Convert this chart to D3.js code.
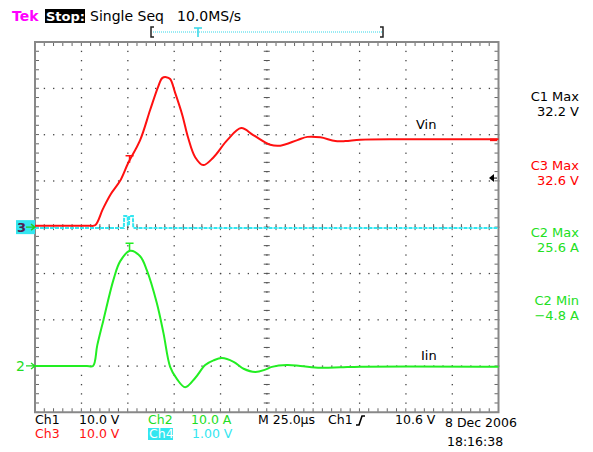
<!DOCTYPE html>
<html>
<head>
<meta charset="utf-8">
<script src="https://cdn.jsdelivr.net/npm/d3@7/dist/d3.min.js"></script>
<style>
  body { margin: 0; background: #fff; }
  svg { display: block; font-family: "DejaVu Sans", Verdana, sans-serif; }
</style>
</head>
<body>
<div id="scope"></div>
<script>
// Time is in µs from the left edge of the screen (25 µs/div, 10 divs)
const ch3Time  = [0, 20, 29, 32.4, 36.7, 41, 45.9, 50.2, 56.7, 62.1, 66.4, 68.6, 70.8, 72.9, 75.6, 79.4, 82.6, 86.4, 90.7, 96.1, 103.7, 111.2, 117.7, 126.9, 132.3, 141.5, 146.9, 153.9, 162, 167.4, 175.5, 197.1, 224.1, 250];
const ch3Volts = [0.3, 0.3, 0.3, 0.4, 4.0, 7.2, 10.0, 13.8, 18.8, 25.3, 30.3, 32.2, 32.4, 32.0, 29.0, 24.3, 19.3, 15.1, 13.4, 15.0, 18.8, 21.4, 19.9, 17.8, 17.6, 18.8, 19.5, 19.4, 18.6, 18.6, 18.9, 19.0, 19.0, 19.0];

const ch2Time = [0, 20, 28, 31.3, 33.6, 36.9, 42.3, 45.9, 51.3, 56.7, 60.3, 65.7, 69.3, 72.9, 76.5, 81, 86.4, 91.8, 96.3, 100.8, 107.1, 112.5, 118.8, 124.2, 127.8, 135.9, 143.1, 153.9, 164.7, 175.5, 250];
const ch2Amps = [0, 0, 0, 0, 4.5, 9.9, 18.6, 22.6, 24.9, 23.7, 20.7, 13.6, 7.1, -0.2, -2.8, -4.6, -2.6, 0.2, 1.2, 1.7, 0.9, -0.6, -1.3, -0.8, -0.2, 0.2, 0, -0.4, -0.3, -0.15, -0.15];

const ch4Time  = [0, 47.9, 48.1, 50.0, 50.1, 50.7, 50.8, 52.8, 53.0, 250];
const ch4Volts = [-0.02, -0.02, 0.24, 0.24, 0.04, 0.04, 0.24, 0.24, -0.02, -0.02];

const measureNames  = ["C1 Max", "C3 Max", "C2 Max", "C2 Min"];
const measureValues = ["32.2 V", "32.6 V", "25.6 A", "\u22124.8 A"];
const measureColors = ["#000", "#ff0000", "#22e022", "#22e022"];

const W = 593, H = 452;
const plotLeft = 35, plotRight = 498.5, plotTop = 42, plotBottom = 412.25;

const svg = d3.select("#scope").append("svg").attr("width", W).attr("height", H);

// scales: screen in divisions, each channel in its own units
const xDiv = d3.scaleLinear().domain([0, 10]).range([plotLeft, plotRight]);
const yDiv = d3.scaleLinear().domain([-4, 4]).range([plotBottom, plotTop]);
const xTime = d3.scaleLinear().domain([0, 250]).range([plotLeft, plotRight]);
const yCh3 = d3.scaleLinear().domain([-40, 40]).range([plotBottom, plotTop]);   // 10 V/div, zero at center
const yCh2 = d3.scaleLinear().domain([-10, 70]).range([plotBottom, plotTop]);   // 10 A/div, zero 3 div below center
const yCh4 = d3.scaleLinear().domain([-4, 4]).range([plotBottom, plotTop]);     // 1 V/div, zero at center

// ---- graticule ----
const grid = svg.append("g").attr("class", "graticule");
const minorX = d3.range(0, 10.01, 0.2);
const minorY = d3.range(-4, 4.01, 0.2);

// dotted grid lines
d3.range(1, 10).forEach(i => {
  grid.selectAll(null).data(minorY).enter().append("rect")
    .attr("x", xDiv(i) - 0.5).attr("y", d => yDiv(d) - 0.5)
    .attr("width", 1.3).attr("height", 1.3).attr("fill", "#444");
});
d3.range(-3, 4).forEach(j => {
  grid.selectAll(null).data(minorX).enter().append("rect")
    .attr("x", d => xDiv(d) - 0.5).attr("y", yDiv(j) - 0.5)
    .attr("width", 1.3).attr("height", 1.3).attr("fill", "#444");
});

// center cross ticks
grid.selectAll(null).data(minorY).enter().append("line")
  .attr("x1", xDiv(5) - 3).attr("x2", xDiv(5) + 3)
  .attr("y1", d => yDiv(d)).attr("y2", d => yDiv(d))
  .attr("stroke", "#555").attr("stroke-width", 1);
grid.selectAll(null).data(minorX).enter().append("line")
  .attr("x1", d => xDiv(d)).attr("x2", d => xDiv(d))
  .attr("y1", yDiv(0) - 3).attr("y2", yDiv(0) + 3)
  .attr("stroke", "#555").attr("stroke-width", 1);

// border ticks
grid.selectAll(null).data(minorX).enter().append("line")
  .attr("x1", d => xDiv(d)).attr("x2", d => xDiv(d))
  .attr("y1", plotTop).attr("y2", plotTop + 4).attr("stroke", "#666");
grid.selectAll(null).data(minorX).enter().append("line")
  .attr("x1", d => xDiv(d)).attr("x2", d => xDiv(d))
  .attr("y1", plotBottom - 4).attr("y2", plotBottom).attr("stroke", "#666");
grid.selectAll(null).data(minorY).enter().append("line")
  .attr("x1", plotLeft).attr("x2", plotLeft + 4)
  .attr("y1", d => yDiv(d)).attr("y2", d => yDiv(d)).attr("stroke", "#666");
grid.selectAll(null).data(minorY).enter().append("line")
  .attr("x1", plotRight - 4).attr("x2", plotRight)
  .attr("y1", d => yDiv(d)).attr("y2", d => yDiv(d)).attr("stroke", "#666");

grid.append("rect")
  .attr("x", plotLeft).attr("y", plotTop)
  .attr("width", plotRight - plotLeft).attr("height", plotBottom - plotTop)
  .attr("fill", "none").attr("stroke", "#888").attr("stroke-width", 2);

// ---- traces ----
const traces = svg.append("g").attr("class", "traces");

const ch4Line = d3.line().x((d, i) => xTime(ch4Time[i])).y(d => yCh4(d));
traces.append("path").datum(ch4Volts)
  .attr("d", ch4Line).attr("fill", "none")
  .attr("stroke", "#33e6f0").attr("stroke-width", 2).attr("stroke-dasharray", "4,1");

const ch3Line = d3.line().curve(d3.curveCatmullRom.alpha(0.5)).x((d, i) => xTime(ch3Time[i])).y(d => yCh3(d));
traces.append("path").datum(ch3Volts)
  .attr("d", ch3Line).attr("fill", "none")
  .attr("stroke", "#ff1010").attr("stroke-width", 2);

const ch2Line = d3.line().curve(d3.curveCatmullRom.alpha(0.5)).x((d, i) => xTime(ch2Time[i])).y(d => yCh2(d));
traces.append("path").datum(ch2Amps)
  .attr("d", ch2Line).attr("fill", "none")
  .attr("stroke", "#22ee22").attr("stroke-width", 2);

// peak cursor "T" marks
function tMark(x, y, color) {
  traces.append("path")
    .attr("d", `M${x - 4},${y}H${x + 4}M${x},${y}V${y + 7}`)
    .attr("stroke", color).attr("stroke-width", 1.5).attr("fill", "none");
}
tMark(xTime(51), yCh3(15.4), "#ff1010");
tMark(xTime(51), yCh2(26.5), "#22ee22");

// trace labels
svg.append("text").attr("x", 416).attr("y", 129).attr("font-size", 13).text("Vin");
svg.append("text").attr("x", 421).attr("y", 360).attr("font-size", 13).text("Iin");

// ---- ground / level markers ----
svg.append("rect").attr("x", 16).attr("y", yCh3(0) - 7).attr("width", 19).attr("height", 14).attr("fill", "#33e6f0");
svg.append("text").attr("x", 17).attr("y", yCh3(0) + 5).attr("font-size", 13).attr("font-weight", "bold")
  .attr("fill", "#502050").text("3");
svg.append("path").attr("d", `M26,${yCh3(0)}H35M31,${yCh3(0) - 3}L35,${yCh3(0)}L31,${yCh3(0) + 3}`)
  .attr("stroke", "#22cc22").attr("stroke-width", 1.3).attr("fill", "none");

svg.append("text").attr("x", 16).attr("y", yCh2(0) + 5).attr("font-size", 14).attr("fill", "#22dd22").text("2");
svg.append("path").attr("d", `M26,${yCh2(0)}H35M31,${yCh2(0) - 3}L35,${yCh2(0)}L31,${yCh2(0) + 3}`)
  .attr("stroke", "#22dd22").attr("stroke-width", 1.3).attr("fill", "none");

// trigger level arrow (Ch1 10.6 V)
const trigY = yCh3(10.6);
svg.append("path").attr("d", `M489,${trigY}L494,${trigY - 4}L494,${trigY + 4}Z`).attr("fill", "#000");
svg.append("line").attr("x1", 492).attr("x2", 497).attr("y1", trigY).attr("y2", trigY).attr("stroke", "#000");
// red level tick
svg.append("rect").attr("x", 490).attr("y", yCh3(18.9) - 1).attr("width", 7).attr("height", 2.5).attr("fill", "#ff1010");

// ---- header ----
const hdr = svg.append("g").attr("font-size", 14);
hdr.append("text").attr("x", 12).attr("y", 21).attr("fill", "#ff00ff").attr("font-weight", "bold").text("Tek");
hdr.append("rect").attr("x", 45).attr("y", 9).attr("width", 40).attr("height", 14).attr("fill", "#000");
hdr.append("text").attr("x", 46).attr("y", 21).attr("fill", "#fff").attr("font-weight", "bold").attr("font-size", 13).text("Stop:");
hdr.append("text").attr("x", 90).attr("y", 21).text("Single Seq");
hdr.append("text").attr("x", 177).attr("y", 21).text("10.0MS/s");

// record bar
const rec = svg.append("g");
rec.append("line").attr("x1", 153).attr("x2", 382).attr("y1", 32).attr("y2", 32)
  .attr("stroke", "#33d6e8").attr("stroke-width", 1).attr("stroke-dasharray", "1,1");
rec.append("path").attr("d", "M154,27H151V37H154").attr("stroke", "#222").attr("fill", "none").attr("stroke-width", 1.5);
rec.append("path").attr("d", "M380,27H383V37H380").attr("stroke", "#222").attr("fill", "none").attr("stroke-width", 1.5);
rec.append("path").attr("d", "M194,28H202M198,28V37").attr("stroke", "#33d6e8").attr("stroke-width", 1.5).attr("fill", "none");

// ---- measurements ----
const meas = svg.append("g").attr("font-size", 13).attr("text-anchor", "end");
measureNames.forEach((name, i) => {
  const y0 = [101, 170, 237, 305][i];
  meas.append("text").attr("x", 579).attr("y", y0).attr("fill", measureColors[i]).text(name);
  meas.append("text").attr("x", 579).attr("y", y0 + 14.5).attr("fill", measureColors[i]).text(measureValues[i]);
});

// ---- bottom status ----
const st = svg.append("g").attr("font-size", 12.5);
st.append("text").attr("x", 35).attr("y", 424).text("Ch1");
st.append("text").attr("x", 79).attr("y", 424).text("10.0 V");
st.append("text").attr("x", 148).attr("y", 424).attr("fill", "#22dd22").text("Ch2");
st.append("text").attr("x", 191).attr("y", 424).attr("fill", "#22dd22").text("10.0 A");
st.append("text").attr("x", 258).attr("y", 424).text("M 25.0\u00b5s");
st.append("text").attr("x", 328).attr("y", 424).text("Ch1");
st.append("path").attr("d", "M356,425H359L362,416H365").attr("stroke", "#000").attr("stroke-width", 1.6).attr("fill", "none");
st.append("text").attr("x", 395).attr("y", 424).text("10.6 V");
st.append("text").attr("x", 35).attr("y", 438).attr("fill", "#ff1010").text("Ch3");
st.append("text").attr("x", 79).attr("y", 438).attr("fill", "#ff1010").text("10.0 V");
st.append("rect").attr("x", 148).attr("y", 428).attr("width", 25).attr("height", 12).attr("fill", "#33e6f0");
st.append("text").attr("x", 149).attr("y", 438).attr("fill", "#fff").text("Ch4");
st.append("text").attr("x", 192).attr("y", 438).attr("fill", "#33e6f0").text("1.00 V");
st.append("text").attr("x", 445).attr("y", 427).text("8 Dec 2006");
st.append("text").attr("x", 447).attr("y", 446).text("18:16:38");
</script>
</body>
</html>
